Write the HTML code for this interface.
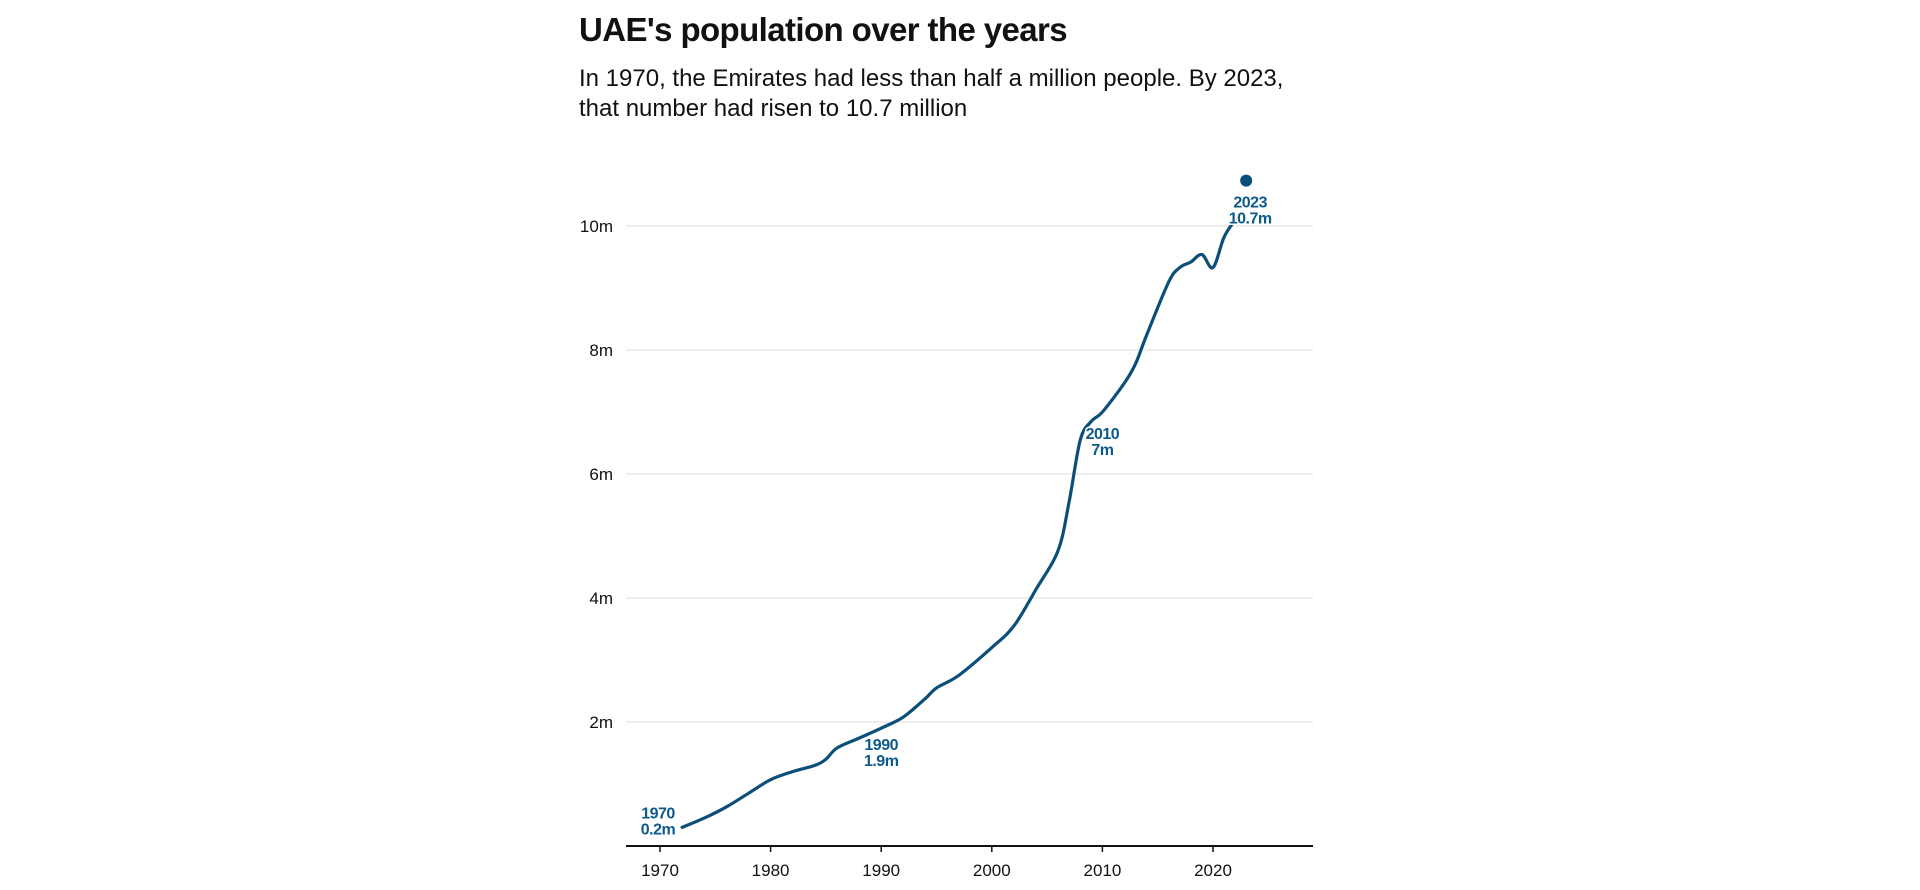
<!DOCTYPE html>
<html><head><meta charset="utf-8"><style>
html,body{margin:0;padding:0;background:#fff;width:1920px;height:890px;overflow:hidden;font-family:"Liberation Sans",sans-serif}
#title{position:absolute;left:579px;top:11px;font-size:33px;font-weight:bold;color:#111;letter-spacing:-0.6px}
#sub{position:absolute;left:579px;top:64px;font-size:24px;line-height:30px;color:#111;width:800px}
svg{position:absolute;left:0;top:0}
</style></head><body>
<div id="title">UAE's population over the years</div>
<div id="sub">In 1970, the Emirates had less than half a million people. By 2023,<br>that number had risen to 10.7 million</div>
<svg id="chart" width="1920" height="890"></svg>
<script>
const years=[1972,1974,1976,1978,1980,1982,1984,1985,1986,1988,1990,1992,1994,1995,1997,2000,2002,2004,2006,2007,2008,2009,2010,2012,2013,2014,2016,2017,2018,2019,2020,2021,2022];
const pop=[0.30,0.45,0.63,0.85,1.07,1.20,1.30,1.40,1.58,1.74,1.90,2.08,2.38,2.55,2.75,3.20,3.55,4.14,4.77,5.56,6.55,6.85,7.00,7.47,7.78,8.24,9.10,9.33,9.42,9.54,9.33,9.82,10.10];
const yTicks=[2,4,6,8,10];
const xTicks=[1970,1980,1990,2000,2010,2020];
const annYears=[1970,1990,2010,2023];
const annVals=[0.2,1.9,7.0,10.7];
const annLabels=["0.2m","1.9m","7m","10.7m"];
const lastYear=2023, lastVal=10.7;

const NS="http://www.w3.org/2000/svg";
const svg=document.getElementById('chart');
const x=y=>660+(y-1970)*11.06;
const yS=v=>846-v*62;
function mk(t,a){const e=document.createElementNS(NS,t);for(const k in a)e.setAttribute(k,a[k]);svg.appendChild(e);return e;}
yTicks.forEach(v=>{
  const g=mk('line',{x1:626,x2:1313,y1:yS(v),y2:yS(v),stroke:'#e4e4e4','stroke-width':1.2});
  
  
  const t=mk('text',{x:613,y:yS(v)+6,'text-anchor':'end','font-size':17,fill:'#111'});
  t.textContent=v+'m';
  
  
});
const ax=mk('line',{x1:626,x2:1313,y1:846,y2:846,stroke:'#111','stroke-width':2});


xTicks.forEach(yr=>{
  const l=mk('line',{x1:x(yr),x2:x(yr),y1:846,y2:852,stroke:'#111','stroke-width':1.5});
  
  
  const t=mk('text',{x:x(yr),y:876,'text-anchor':'middle','font-size':17,fill:'#111'});
  t.textContent=yr;
  
  
});
const P=years.map((yr,i)=>[x(yr),yS(pop[i])]);
let d='M'+P[0][0]+','+P[0][1];
for(let i=0;i<P.length-1;i++){
  const p0=P[Math.max(0,i-1)],p1=P[i],p2=P[i+1],p3=P[Math.min(P.length-1,i+2)];
  const c1=[p1[0]+(p2[0]-p0[0])/6,p1[1]+(p2[1]-p0[1])/6];
  const c2=[p2[0]-(p3[0]-p1[0])/6,p2[1]-(p3[1]-p1[1])/6];
  d+=` C${c1[0]},${c1[1]} ${c2[0]},${c2[1]} ${p2[0]},${p2[1]}`;
}
const line=mk('path',{d:d,fill:'none',stroke:'#0b4f79','stroke-width':3.2,'stroke-linecap':'round'});


const dot=mk('circle',{cx:x(lastYear),cy:yS(lastVal)-2,r:6,fill:'#0b4f79'});


const offs=[[-2,15],[0,-22],[0,-27],[4,-25]];
annYears.forEach((yr,i)=>{
  const cx=x(yr)+offs[i][0], cy=yS(annVals[i])-offs[i][1];
  [String(yr),annLabels[i]].forEach((s,j)=>{
    const t=mk('text',{x:cx,y:cy+j*16,'text-anchor':'middle','font-size':16,'font-weight':'bold',fill:'#0d5a8a',stroke:'#fff','stroke-width':3,'paint-order':'stroke','letter-spacing':'-0.5'});
    t.textContent=s;
    
    
  });
});
</script>
</body></html>
